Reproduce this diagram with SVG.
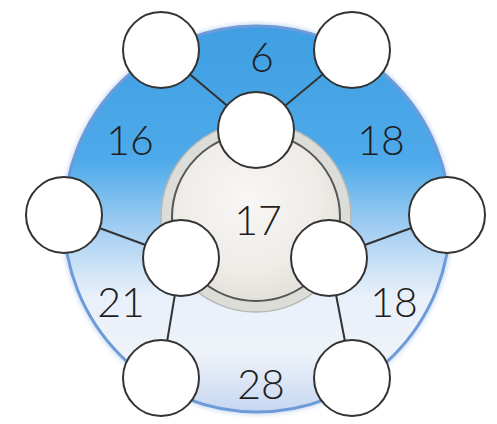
<svg xmlns="http://www.w3.org/2000/svg" width="497" height="424" viewBox="0 0 497 424">
<defs>
<linearGradient id="ring" x1="0" y1="0" x2="0" y2="1">
<stop offset="0" stop-color="#3f9fe2"/>
<stop offset="0.35" stop-color="#4eaaea"/>
<stop offset="0.55" stop-color="#aed3f3"/>
<stop offset="0.7" stop-color="#e9f0fa"/>
<stop offset="0.85" stop-color="#eef2f9"/>
<stop offset="1" stop-color="#c6d7f1"/>
</linearGradient>
<radialGradient id="core" cx="0.45" cy="0.4" r="0.6">
<stop offset="0" stop-color="#f8f7f5"/>
<stop offset="0.7" stop-color="#efece8"/>
<stop offset="1" stop-color="#e4e0da"/>
</radialGradient>
<filter id="soft" x="-10%" y="-10%" width="120%" height="120%"><feGaussianBlur stdDeviation="2"/></filter>
</defs>
<style>
.node{fill:#ffffff;stroke:#333;stroke-width:2}
.conn{stroke:#333;stroke-width:2;fill:none}
.lbl{font-family:Lato,"Open Sans",sans-serif;font-size:41px;font-weight:300;fill:#1e1e22;text-anchor:middle}
</style>
<rect width="497" height="424" fill="#ffffff"/>
<g id="disc">
<circle cx="257" cy="219" r="196" fill="#cfdef4" filter="url(#soft)"/>
<circle cx="257" cy="219" r="193" fill="url(#ring)" stroke="#6d9ad9" stroke-width="3"/>
<circle cx="256" cy="217" r="95" fill="#dcdcd8" stroke="#b8b8b3" stroke-width="1.5"/>
<circle cx="256" cy="217" r="84" fill="url(#core)" stroke="#555" stroke-width="2"/>
</g>
<g id="connectors">
<line class="conn" x1="161" y1="50" x2="256" y2="130"/>
<line class="conn" x1="352" y1="50" x2="256" y2="130"/>
<line class="conn" x1="64" y1="215" x2="181" y2="258"/>
<line class="conn" x1="447" y1="215" x2="329" y2="258"/>
<line class="conn" x1="181" y1="258" x2="161" y2="378"/>
<line class="conn" x1="329" y1="258" x2="352" y2="378"/>
</g>
<g id="labels">
<text class="lbl" x="262" y="72">6</text>
<text class="lbl" x="130" y="155">16</text>
<text class="lbl" x="381" y="155">18</text>
<text class="lbl" x="258" y="235">17</text>
<text class="lbl" x="121" y="317">21</text>
<text class="lbl" x="394" y="317">18</text>
<text class="lbl" x="261" y="399">28</text>
</g>
<g id="n1"><circle class="node" cx="161" cy="50" r="38"/></g>
<g id="n2"><circle class="node" cx="352" cy="50" r="38"/></g>
<g id="n3"><circle class="node" cx="256" cy="130" r="38"/></g>
<g id="n4"><circle class="node" cx="64" cy="215" r="38"/></g>
<g id="n5"><circle class="node" cx="447" cy="215" r="38"/></g>
<g id="n6"><circle class="node" cx="181" cy="258" r="38"/></g>
<g id="n7"><circle class="node" cx="329" cy="258" r="38"/></g>
<g id="n8"><circle class="node" cx="161" cy="378" r="38"/></g>
<g id="n9"><circle class="node" cx="352" cy="378" r="38"/></g>
</svg>
